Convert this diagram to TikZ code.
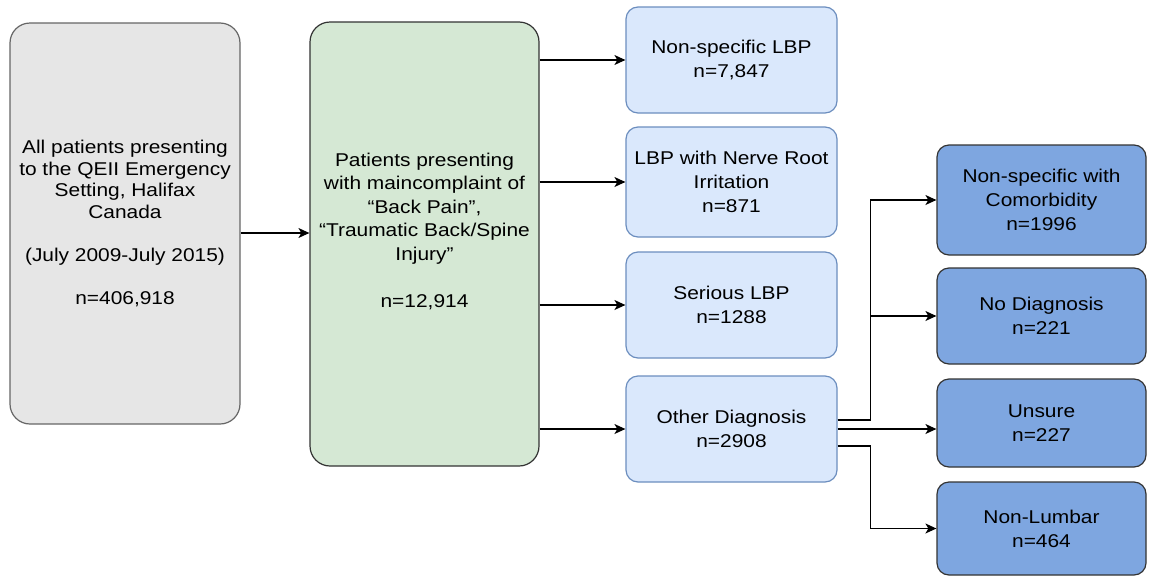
\documentclass[tikz,border=0pt]{standalone}
\usepackage{fontspec}
\setmainfont[FakeStretch=1.13]{Liberation Sans}
\usepackage{tikz}
\usetikzlibrary{arrows.meta}
\definecolor{greyfill}{HTML}{E6E6E6}
\definecolor{greyline}{HTML}{666666}
\definecolor{greenfill}{HTML}{D5E8D4}
\definecolor{lightfill}{HTML}{DAE8FC}
\definecolor{lightline}{HTML}{6C8EBF}
\definecolor{darkfill}{HTML}{7EA6E0}
\definecolor{darkline}{HTML}{333333}
\tikzset{
  flowbox/.style={rectangle,align=center,line width=1.2pt,inner sep=2pt,
    font=\fontsize{18.5}{24}\selectfont},
  greybox/.style={flowbox,draw=greyline,fill=greyfill,rounded corners=20pt,
    font=\fontsize{18.5}{21.5}\selectfont},
  greenbox/.style={flowbox,draw=darkline,fill=greenfill,rounded corners=20pt,
    font=\fontsize{18.5}{23.5}\selectfont},
  lightbox/.style={flowbox,draw=lightline,fill=lightfill,rounded corners=12pt},
  darkbox/.style={flowbox,draw=darkline,fill=darkfill,rounded corners=12pt}
}
\def\drawarrow{\draw[line width=1.3pt,-{Stealth[length=11pt,width=10pt,inset=3pt]}]}

\begin{document}
\begin{tikzpicture}[x=1pt,y=-1pt]
\useasboundingbox[fill=white] (0,0) rectangle (1149,576);
\node[greybox,minimum width=230pt,minimum height=401pt] (allpat) at (125,223.5)
  {All patients presenting\\to the QEII Emergency\\Setting, Halifax\\Canada\\[21.5pt](July 2009-July 2015)\\[21.5pt]n=406,918};
\node[greenbox,minimum width=229pt,minimum height=444pt] (present) at (424.5,244)
  {Patients presenting\\with maincomplaint of\\``Back Pain'',\\``Traumatic Back/Spine\\Injury''\\[23.5pt]n=12,914\\[4pt]\mbox{}};
\node[lightbox,minimum width=211pt,minimum height=106pt] (nslbp) at (731.5,60) {Non-specific LBP\\n=7,847};
\node[lightbox,minimum width=211pt,minimum height=110pt] (nerve) at (731.5,182) {LBP with Nerve Root\\Irritation\\n=871};
\node[lightbox,minimum width=211pt,minimum height=106pt] (serious) at (731.5,305) {Serious LBP\\n=1288};
\node[lightbox,minimum width=211pt,minimum height=106pt] (other) at (731.5,429) {Other Diagnosis\\n=2908};
\node[darkbox,minimum width=209pt,minimum height=110pt] (comorb) at (1041.5,200) {Non-specific with\\Comorbidity\\n=1996};
\node[darkbox,minimum width=209pt,minimum height=96pt] (nodiag) at (1041.5,316) {No Diagnosis\\n=221};
\node[darkbox,minimum width=209pt,minimum height=88pt] (unsure) at (1041.5,423) {Unsure\\n=227};
\node[darkbox,minimum width=209pt,minimum height=93pt] (nonlumbar) at (1041.5,528.5) {Non-Lumbar\\n=464};
\drawarrow ([yshift=-9.5pt]allpat.east) -- ([yshift=-9.5pt]allpat.east -| present.west);
\drawarrow (present.east |- nslbp.west) -- (nslbp.west);
\drawarrow (present.east |- nerve.west) -- (nerve.west);
\drawarrow (present.east |- serious.west) -- (serious.west);
\drawarrow (present.east |- other.west) -- (other.west);
\drawarrow ([yshift=9pt]other.east) -- ++(33,0) |- (comorb.west);
\drawarrow ([yshift=9pt]other.east) -- ++(33,0) |- (nodiag.west);
\drawarrow (other.east) -- (other.east -| unsure.west);
\drawarrow ([yshift=-17pt]other.east) -- ++(33,0) |- (nonlumbar.west);
\end{tikzpicture}
\end{document}
